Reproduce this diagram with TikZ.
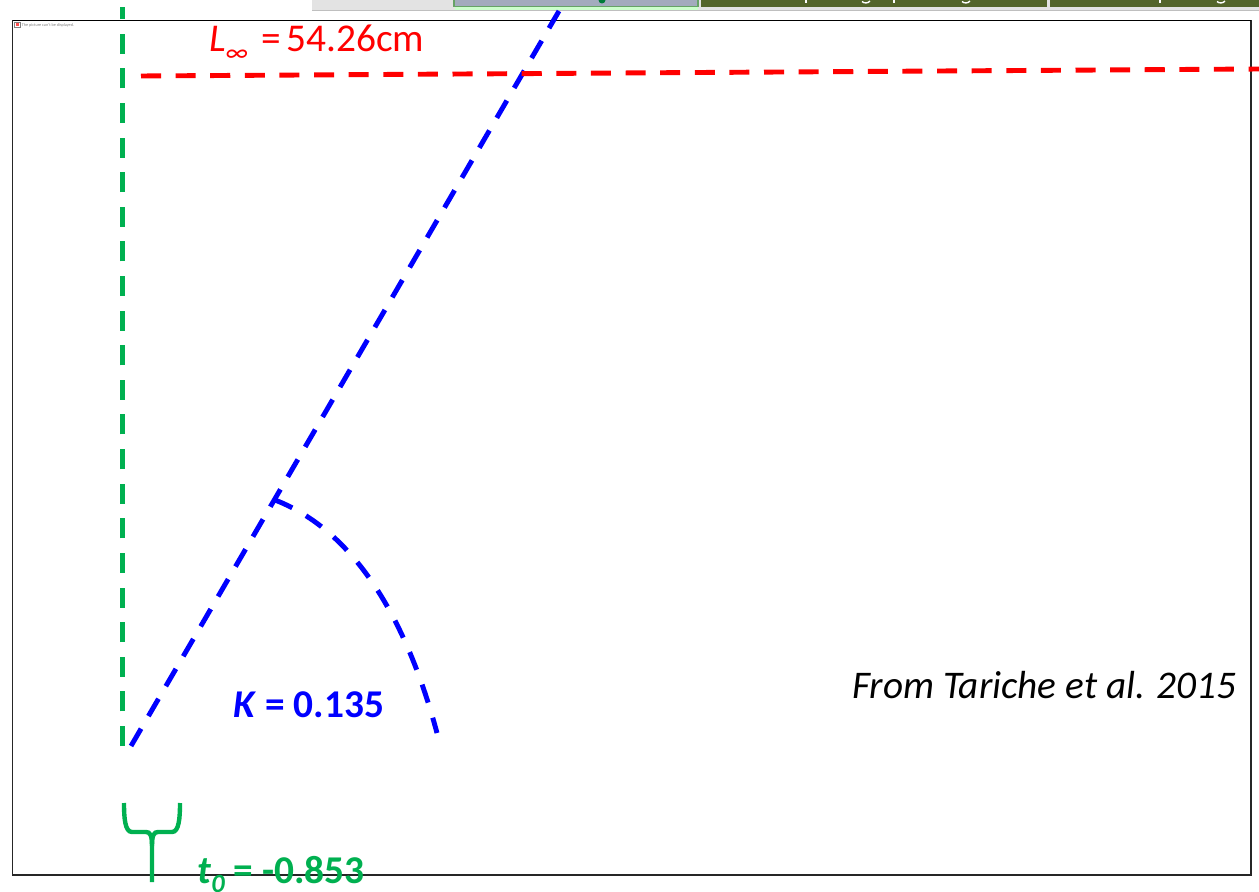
\documentclass[tikz,border=0pt]{standalone}
\usepackage{fontspec}
\setmainfont{Carlito}
\definecolor{fitgreen}{HTML}{00B050}
\definecolor{tabolive}{HTML}{53652A}
\definecolor{tabblue}{HTML}{A3ABBD}
\definecolor{tabgrey}{HTML}{E3E3E3}
\tikzset{
    dashline/.style={line width=2.8pt,dash pattern=on 11.4pt off 8.3pt},
    label/.style={anchor=base west,inner sep=0pt,font=\fontsize{22.4}{26}\selectfont}
}
\begin{document}
\begin{tikzpicture}[x=0.02cm,y=-0.02cm]
    \clip (0,0) rectangle (1259,892);
    \fill[white] (0,0) rectangle (1259,892);
% Tab strip
    \fill[tabgrey] (312,0) rectangle (1259,10);
    \draw[black!25,line width=0.6pt] (312,10.5) -- (1259,10.5);
    \fill[tabblue] (455,0) rectangle (698,6);
    \fill[green!20!white] (455,7) rectangle (698,10);
    \draw[black!60!green!60!white,line width=0.7pt] (454,0) -- (454,6.5) -- (698,6.5) -- (698,0);
    \fill[fitgreen!70!black] (602,0) circle (3.5);
    \foreach \a/\b in {701/1047,1050/1259}{
        \fill[tabolive] (\a,0) rectangle (\b,7.5);
    }
% Letter ends in the tabs
    \foreach \x in {806,894,1160}{
        \draw[white,line width=0.8pt] (\x,0) -- (\x,3);
    }
    \foreach \x in {866,966,1221}{
        \draw[white,line width=0.8pt] (\x-4,1.5) .. controls (\x-2,3.5) and (\x+2,3.5) .. (\x+4,1);
    }
% Frame
    \draw[black!85,line width=0.6pt] (12.5,20.5) rectangle (1251,875);
    \draw[black,line width=0.8pt] (12.5,20.5) -- (1251,20.5);
% Missing picture
    \draw[black!50,line width=0.25pt,fill=white] (14.5,22.5) rectangle (20.5,27.5);
    \fill[red!70!white] (16,23.5) rectangle (19,26.5);
    \node[anchor=west,inner sep=0pt,text=black!50,font=\fontsize{2.4}{3}\selectfont] (missing) at (21.5,25) {The picture can't be displayed.};
% Fitted lines
    \coordinate (tzero) at (122.5,746);
    \coordinate (ttop) at (122.5,7);
    \coordinate (kstart) at (131,746);
    \coordinate (kend) at (559,11);
    \coordinate (kmark) at (275,500);
    \coordinate (kfoot) at (437,733);
    \coordinate (linfa) at (141,76);
    \coordinate (linfb) at (1259,69);
    \draw[dashline,fitgreen] (tzero) -- (ttop);
    \draw[dashline,blue] (kstart) -- (kend);
    \draw[dashline,red] (linfa) -- (linfb);
    \draw[line width=2.8pt,blue,dash pattern=on 10.8pt off 9pt] (kmark) .. controls (365,535) and (412,640) .. (kfoot);
% Brace
    \draw[fitgreen,line width=2.5pt] (124,803) .. controls (124,818) and (125,832) .. (132,832) -- (146,832) .. controls (150,832) and (152,835) .. (152,846) -- (152,882);
    \draw[fitgreen,line width=2.5pt] (180,803) .. controls (180,818) and (179,832) .. (172,832) -- (158,832) .. controls (154,832) and (152,835) .. (152,846);
% Labels
    \node[label,text=red] (linf) at (209,52) {\textit{L}\raisebox{-0.25em}{\fontsize{15}{15}\selectfont\textit{∞}}\hspace{0.33em}=\hspace{0.14em}54.26cm};
    \node[label,text=blue,font=\fontsize{22.4}{26}\selectfont\bfseries] (krate) at (233,717) {\textit{K} = 0.135};
    \node[label,text=fitgreen,font=\fontsize{22.4}{26}\selectfont\bfseries] (tnaught) at (197,883) {\textit{t}\raisebox{-0.25em}{\fontsize{15}{15}\selectfont\textit{0}} = -0.853};
    \node[label,text=black,font=\fontsize{22.3}{26}\selectfont] (source) at (852,698) {\textit{From Tariche et al. 2015}};
\end{tikzpicture}
\end{document}
